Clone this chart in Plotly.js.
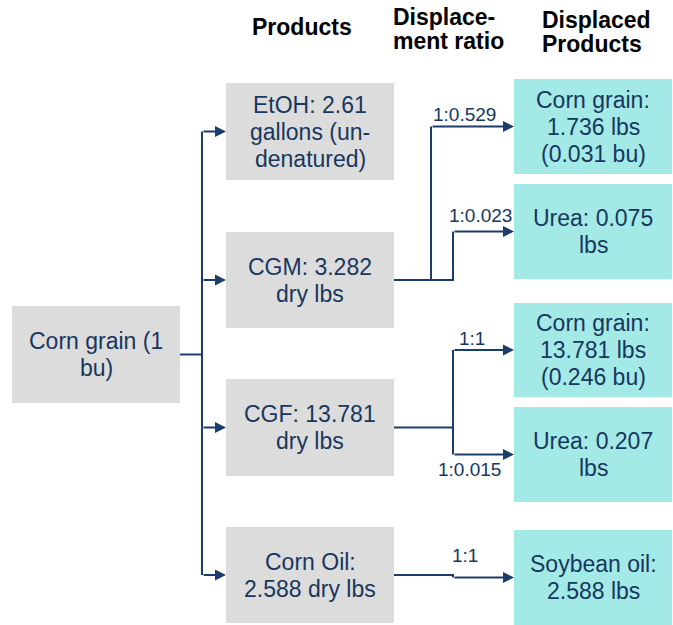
<!DOCTYPE html>
<html>
<head>
<meta charset="utf-8">
<script src="https://cdn.plot.ly/plotly-3.0.1.min.js"></script>
<style>html,body{margin:0;padding:0;background:#fff;}</style>
</head>
<body>
<div id="chart" style="width:673px;height:625px;"></div>
<script>
// ---- Data (text content of the diagram) ----
const headers = [['Products'], ['Displace-', 'ment ratio'], ['Displaced', 'Products']];
const sourceLines = ['Corn grain (1', 'bu)'];
const productLines = [
  ['EtOH: 2.61', 'gallons (un-', 'denatured)'],
  ['CGM: 3.282', 'dry lbs'],
  ['CGF: 13.781', 'dry lbs'],
  ['Corn Oil:', '2.588 dry lbs']
];
const displacedLines = [
  ['Corn grain:', '1.736 lbs', '(0.031 bu)'],
  ['Urea: 0.075', 'lbs'],
  ['Corn grain:', '13.781 lbs', '(0.246 bu)'],
  ['Urea: 0.207', 'lbs'],
  ['Soybean oil:', '2.588 lbs']
];
const ratios = ['1:0.529', '1:0.023', '1:1', '1:0.015', '1:1'];

// ---- Layout (positions / styles) ----
const NAVY = '#17375E', LINE = '#1B3D6B', GRAY = '#DCDCDC', TEAL = '#A3E9E5';
const FONT = 'Arial, Liberation Sans, sans-serif';
const srcBox = [12, 180, 306, 403];
const prodBoxes = [[226, 394, 83, 180], [226, 394, 232, 328], [226, 394, 379, 476], [226, 394, 527, 623]];
const dispBoxes = [[514, 672, 79, 174], [514, 672, 184, 279], [514, 672, 303, 397], [514, 672, 407, 502], [514, 672, 530, 625]];
const ratioPos = [[464, 114], [480, 215], [472, 338], [469.5, 469], [464.5, 555]];
const headerPos = [[301.5, 26.5, 'center'], [391, 16.5, 'left'], [540, 19.5, 'left']];

const shapes = [];
const annotations = [];
const LS = 27;

function box(b, color, lines) {
  shapes.push({type: 'rect', xref: 'x', yref: 'y', x0: b[0], x1: b[1], y0: b[2], y1: b[3],
    fillcolor: color, line: {width: 0}, layer: 'below'});
  const cx = (b[0] + b[1]) / 2, cy = (b[2] + b[3]) / 2;
  lines.forEach((t, i) => {
    annotations.push({x: cx, y: cy + (i - (lines.length - 1) / 2) * LS, xref: 'x', yref: 'y',
      text: t, showarrow: false, xanchor: 'center', yanchor: 'middle',
      font: {family: FONT, size: 23, color: NAVY}});
  });
}
box(srcBox, GRAY, sourceLines);
prodBoxes.forEach((b, i) => box(b, GRAY, productLines[i]));
dispBoxes.forEach((b, i) => box(b, TEAL, displacedLines[i]));

headers.forEach((lines, i) => {
  const p = headerPos[i];
  lines.forEach((t, j) => {
    annotations.push({x: p[0], y: p[1] + j * 24, xref: 'x', yref: 'y', text: '<b>' + t + '</b>',
      showarrow: false, xanchor: p[2], yanchor: 'middle',
      font: {family: FONT, size: 23, color: '#000'}});
  });
});

ratios.forEach((t, i) => {
  annotations.push({x: ratioPos[i][0], y: ratioPos[i][1], xref: 'x', yref: 'y', text: t,
    showarrow: false, xanchor: 'center', yanchor: 'middle',
    font: {family: FONT, size: 19, color: NAVY}});
});

function path(pts) {
  shapes.push({type: 'path', xref: 'x', yref: 'y',
    path: 'M' + pts.map(p => p[0] + ',' + p[1]).join(' L'), line: {color: LINE, width: 2}});
}
function arrow(x0, y0, x1, y1) {
  annotations.push({x: x1, y: y1, ax: x0, ay: y0, xref: 'x', yref: 'y', axref: 'x', ayref: 'y',
    text: '', showarrow: true, arrowhead: 2, arrowsize: 1.1, arrowwidth: 2, arrowcolor: LINE, standoff: 0});
}
const cy = b => (b[2] + b[3]) / 2;
// trunk from source
const trunkX = 202;
path([[srcBox[1], cy(srcBox)], [trunkX, cy(srcBox)]]);
path([[trunkX, cy(prodBoxes[0])], [trunkX, cy(prodBoxes[3])]]);
prodBoxes.forEach(b => arrow(trunkX, cy(b), b[0], cy(b)));
// CGM
path([[394, cy(prodBoxes[1])], [431, cy(prodBoxes[1])], [431, cy(dispBoxes[0])]]);
arrow(431, cy(dispBoxes[0]), 514, cy(dispBoxes[0]));
path([[431, cy(prodBoxes[1])], [453, cy(prodBoxes[1])], [453, cy(dispBoxes[1])]]);
arrow(453, cy(dispBoxes[1]), 514, cy(dispBoxes[1]));
// CGF
path([[394, cy(prodBoxes[2])], [453, cy(prodBoxes[2])]]);
path([[453, cy(dispBoxes[2])], [453, cy(dispBoxes[3])]]);
arrow(453, cy(dispBoxes[2]), 514, cy(dispBoxes[2]));
arrow(453, cy(dispBoxes[3]), 514, cy(dispBoxes[3]));
// Corn oil
path([[394, cy(prodBoxes[3])], [453, cy(prodBoxes[3])], [453, cy(dispBoxes[4])]]);
arrow(453, cy(dispBoxes[4]), 514, cy(dispBoxes[4]));

const layout = {
  width: 673, height: 625, margin: {l: 0, r: 0, t: 0, b: 0},
  paper_bgcolor: '#fff', plot_bgcolor: '#fff', showlegend: false,
  xaxis: {range: [0, 673], visible: false, fixedrange: true},
  yaxis: {range: [625, 0], visible: false, fixedrange: true},
  shapes: shapes, annotations: annotations
};
Plotly.newPlot('chart', [{x: [], y: [], type: 'scatter', hoverinfo: 'skip'}], layout,
  {displayModeBar: false, staticPlot: true});
</script>
</body>
</html>
